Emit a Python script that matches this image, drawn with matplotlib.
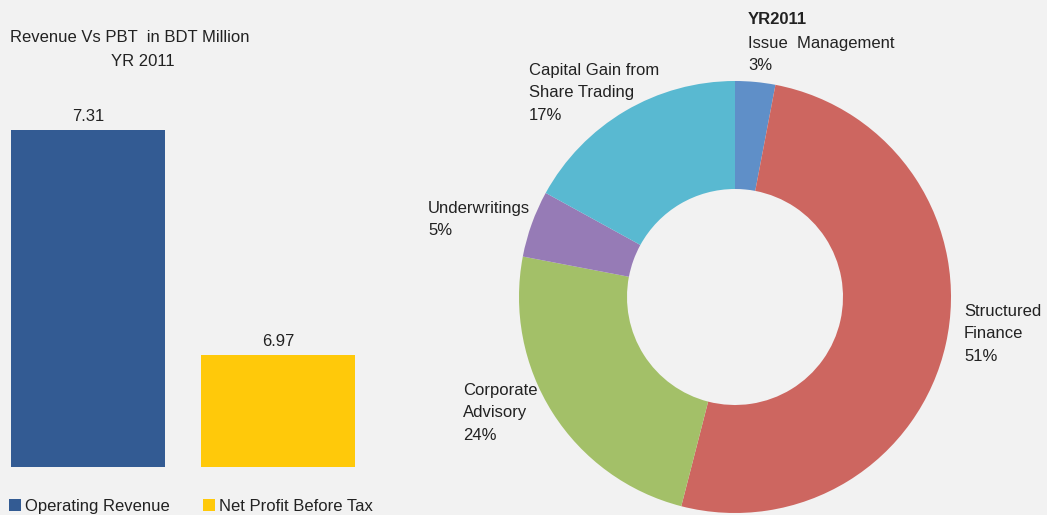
import matplotlib.pyplot as plt
from matplotlib.patches import Patch

plt.rcParams['font.family'] = ['Liberation Sans', 'DejaVu Sans']

# bar data (BDT million, YR 2011)
bar_names = ['Operating Revenue', 'Net Profit Before Tax']
bar_values = [7.31, 6.97]
bar_colors = ['#335b93', '#ffc90a']

# revenue mix
seg_names = ['Issue  Management', 'Structured\nFinance', 'Corporate\nAdvisory',
             'Underwritings', 'Capital Gain from\nShare Trading']
seg_pct = [3, 51, 24, 5, 17]
seg_colors = ['#5f8fc8', '#cd6660', '#a3c068', '#967bb6', '#59b9d1']

W, H = 1047, 515
bg = '#f2f2f2'
fig = plt.figure(figsize=(W / 100, H / 100), dpi=100, facecolor=bg)

def fx(px):
    return px / W

def fy(py):
    return 1 - py / H

# --- bar chart ---
ax = fig.add_axes([fx(11), fy(467), fx(355) - fx(11), fy(100) - fy(467)])
ax.set_facecolor(bg)
x = range(len(bar_values))
bars = ax.bar(x, bar_values, width=0.81, color=bar_colors)
ax.set_xlim(-0.405, 1.405)
ax.set_ylim(6.8, 7.355)
for xi, v in zip(x, bar_values):
    ax.text(xi, v + 0.008, f'{v:.2f}', ha='center', va='bottom', fontsize=12, color='#222222')
ax.axis('off')

fig.text(fx(10), fy(38), 'Revenue Vs PBT  in BDT Million', ha='left', va='center',
         fontsize=12, color='#222222')
fig.text(fx(143), fy(61), 'YR 2011', ha='center', va='center', fontsize=12, color='#222222')

handles = [Patch(facecolor=c, edgecolor='none') for c in bar_colors]
fig.legend(handles, bar_names, loc='lower left', bbox_to_anchor=(fx(-6), fy(529)),
           ncol=2, frameon=False, fontsize=12, handlelength=0.7, handleheight=0.7,
           handletextpad=0.25, columnspacing=2.0, labelcolor='#222222')

# --- donut ---
r = 216
cx, cy = 735, 297
pax = fig.add_axes([fx(cx - r), fy(cy + r), 2 * r / W, 2 * r / H])
pax.pie(seg_pct, colors=seg_colors, startangle=90, counterclock=False,
        radius=1, wedgeprops=dict(width=0.5, edgecolor='none'))
pax.set_xlim(-1, 1)
pax.set_ylim(-1, 1)
pax.set_aspect('equal')
pax.axis('off')

# label anchor points (top-left of each text block)
label_pos = [(748, 36), (964, 304), (463, 383), (428, 201), (529, 63)]
for name, p, (lx, ly) in zip(seg_names, seg_pct, label_pos):
    fig.text(fx(lx), fy(ly), f'{name}\n{p}%', ha='left', va='top',
             fontsize=12, linespacing=1.62, color='#222222')
fig.text(fx(748), fy(12), 'YR2011', ha='left', va='top', fontsize=12,
         fontweight='bold', color='#222222')

fig.savefig('out.png', dpi=100, facecolor=bg)
